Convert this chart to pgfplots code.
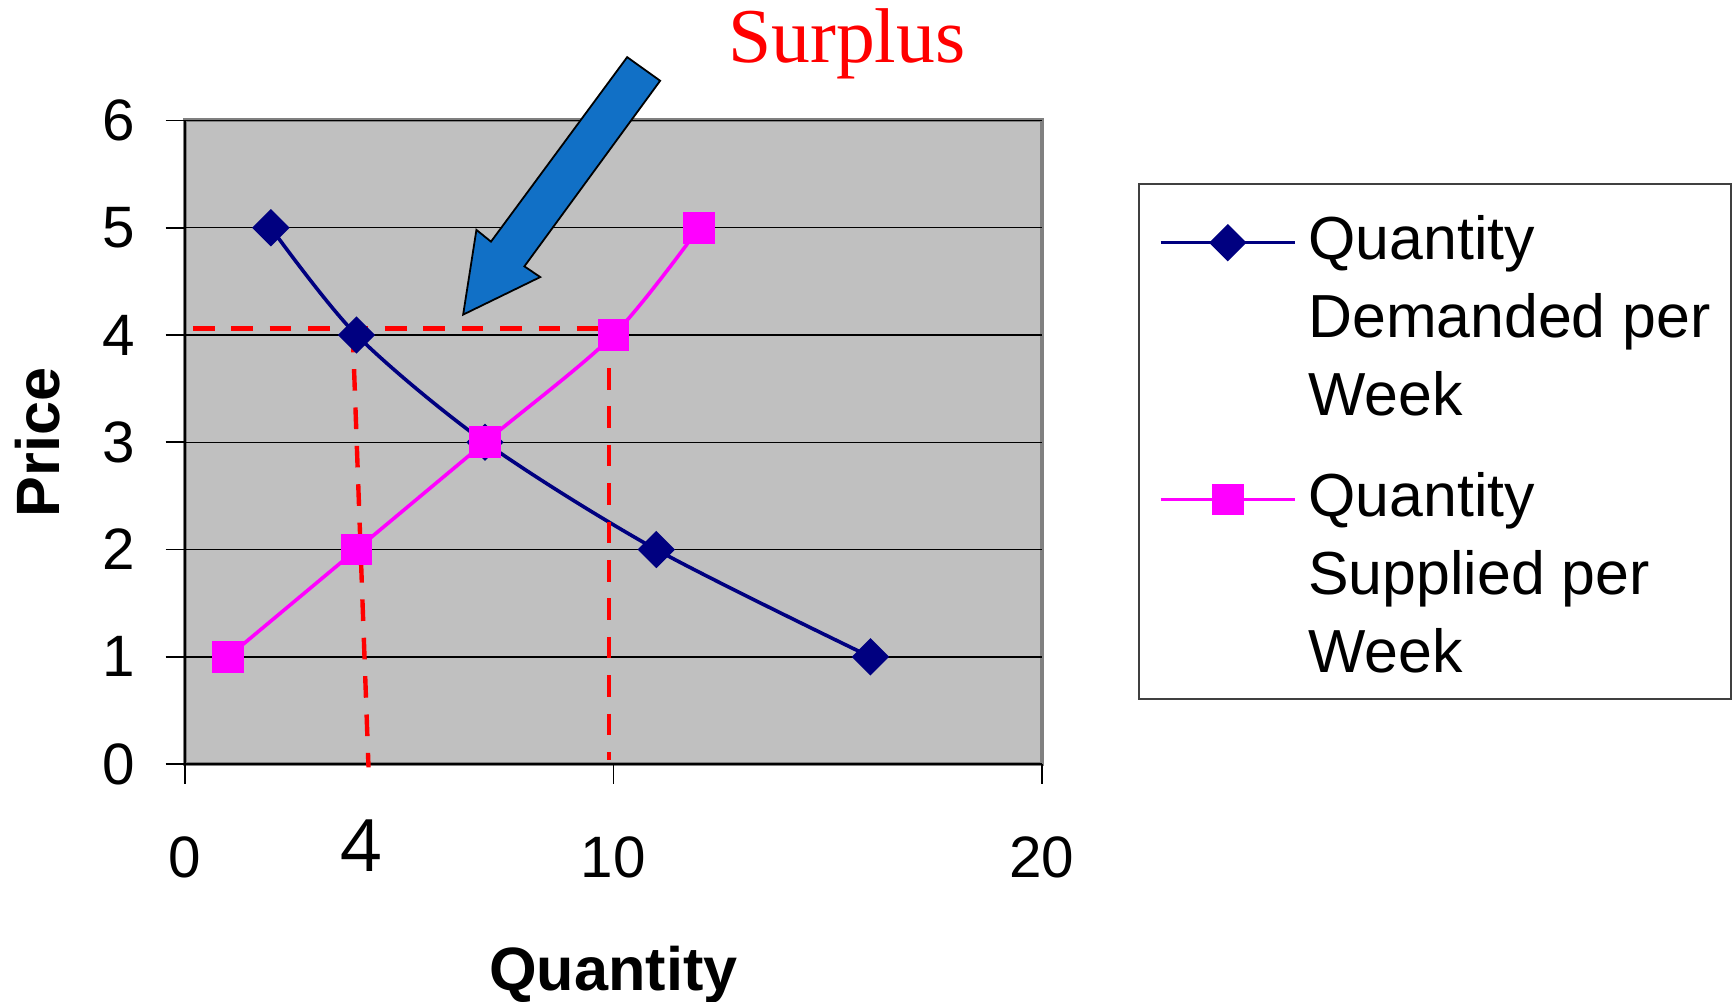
\documentclass[border=0pt]{standalone}
\usepackage{fontspec}
\setmainfont{Liberation Sans}
\newfontfamily\surplusfont{Liberation Serif}
\newfontfamily\digitfont{Open Sans}
\usepackage{pgfplots}
\pgfplotsset{compat=1.18}

\definecolor{demand}{HTML}{000080}
\definecolor{supply}{HTML}{FF00FF}
\definecolor{plotbg}{HTML}{C0C0C0}
\definecolor{framegray}{HTML}{808080}
\definecolor{arrowblue}{HTML}{1170C6}

% struts that fix the line pitch inside the legend
\newcommand\legline{\rule[-5.5pt]{0pt}{19.5pt}}
\newcommand\legbreak{\rule[-11.2pt]{0pt}{25.2pt}}
\newcommand\leglast{\rule[-1.45pt]{0pt}{15.45pt}}

\begin{document}
\begin{tikzpicture}
\path[use as bounding box] (-46.3pt,-59.25pt) rectangle (386.9pt,191pt);
\begin{axis}[
  at={(0pt,0pt)}, anchor=south west,
  scale only axis, width=214.1pt, height=160.9pt,
  xmin=0, xmax=20, ymin=0, ymax=6,
  xtick={0,10,20}, ytick={0,1,...,6},
  axis x line*=bottom, axis y line*=left,
  axis line style={black, line width=0.5pt, -},
  axis background/.style={fill=plotbg, draw=framegray, line width=1pt},
  tick align=outside, major tick length=4.9pt,
  tick style={black, line width=0.4pt},
  ymajorgrids, major grid style={black, line width=0.35pt},
  /pgf/number format/assume math mode=true,
  ticklabel style={font=\fontsize{14.6}{17}\selectfont, inner sep=0pt},
  xticklabel style={anchor=north, yshift=-13.1pt},
  yticklabel style={anchor=east, xshift=-7.4pt},
  xlabel={Quantity}, ylabel={Price},
  label style={font=\bfseries\fontsize{15.3}{18}\selectfont, inner sep=0pt},
  xlabel style={at={(axis description cs:0.5,-0.3512)}, anchor=base},
  ylabel style={at={(axis description cs:-0.1471,0.5)}, anchor=base},
  clip=false,
  legend style={
    at={(axis description cs:1,1)}, anchor=north west,
    xshift=24pt, yshift=-15.6pt,
    draw=black!75, line width=0.5pt, fill=white,
    inner xsep=5pt, inner ysep=5pt,
    font=\fontsize{15.2}{19.5}\selectfont,
    row sep=0pt, column sep=2.9pt,
    cells={anchor=base west},
    nodes={inner sep=0pt, text depth=},
  },
  legend image code/.code={
    \draw[mark repeat=2, mark phase=2, #1]
      plot coordinates {(0pt,4.3pt) (16.8pt,4.3pt) (33.6pt,4.3pt)};
  },
]

% demand schedule
\addplot[demand, line width=0.9pt, smooth, mark=square*, mark size=2.85pt,
  mark options={rotate=45, solid}]
  coordinates {(2,5) (4,4) (7,3) (11,2) (16,1)};
\addlegendentry{\legline Quantity}
\addlegendimage{empty legend}
\addlegendentry{\legline Demanded per}
\addlegendimage{empty legend}
\addlegendentry{\legbreak Week}

% supply schedule
\addplot[supply, line width=0.9pt, smooth, mark=square*, mark size=3.5pt,
  mark options={solid}]
  coordinates {(1,1) (4,2) (7,3) (10,4) (12,5)};
\addlegendentry{\legline Quantity}
\addlegendimage{empty legend}
\addlegendentry{\legline Supplied per}
\addlegendimage{empty legend}
\addlegendentry{\leglast Week}

% price of 4: quantities demanded and supplied
\addplot[red, line width=1.1pt, dash pattern=on 5.4pt off 4.2pt, forget plot]
  coordinates {(0.18,4.06) (9.95,4.06)};
\addplot[red, line width=1.1pt, dash pattern=on 5.4pt off 4.2pt, forget plot]
  coordinates {(3.91,4.04) (4.28,-0.03)};
\addplot[red, line width=1.1pt, dash pattern=on 5.4pt off 4.2pt, forget plot]
  coordinates {(9.89,4.05) (9.89,0.04)};

% block arrow pointing at the gap
\filldraw[fill=arrowblue, draw=black, line width=0.45pt, line join=miter]
  (axis cs:6.49,4.19) -- (axis cs:6.80,4.98) -- (axis cs:7.14,4.87)
  -- (axis cs:10.32,6.59) -- (axis cs:11.09,6.37) -- (axis cs:7.92,4.64)
  -- (axis cs:8.29,4.54) -- cycle;

\node[anchor=base, text=red, font=\surplusfont\fontsize{19.4}{22}\selectfont]
  at (axis cs:15.45,6.54) {Surplus};
\node[inner sep=0pt, font=\digitfont\fontsize{18}{22}\selectfont]
  at (axis cs:4.11,-0.764) {4};
\end{axis}
\end{tikzpicture}
\end{document}
